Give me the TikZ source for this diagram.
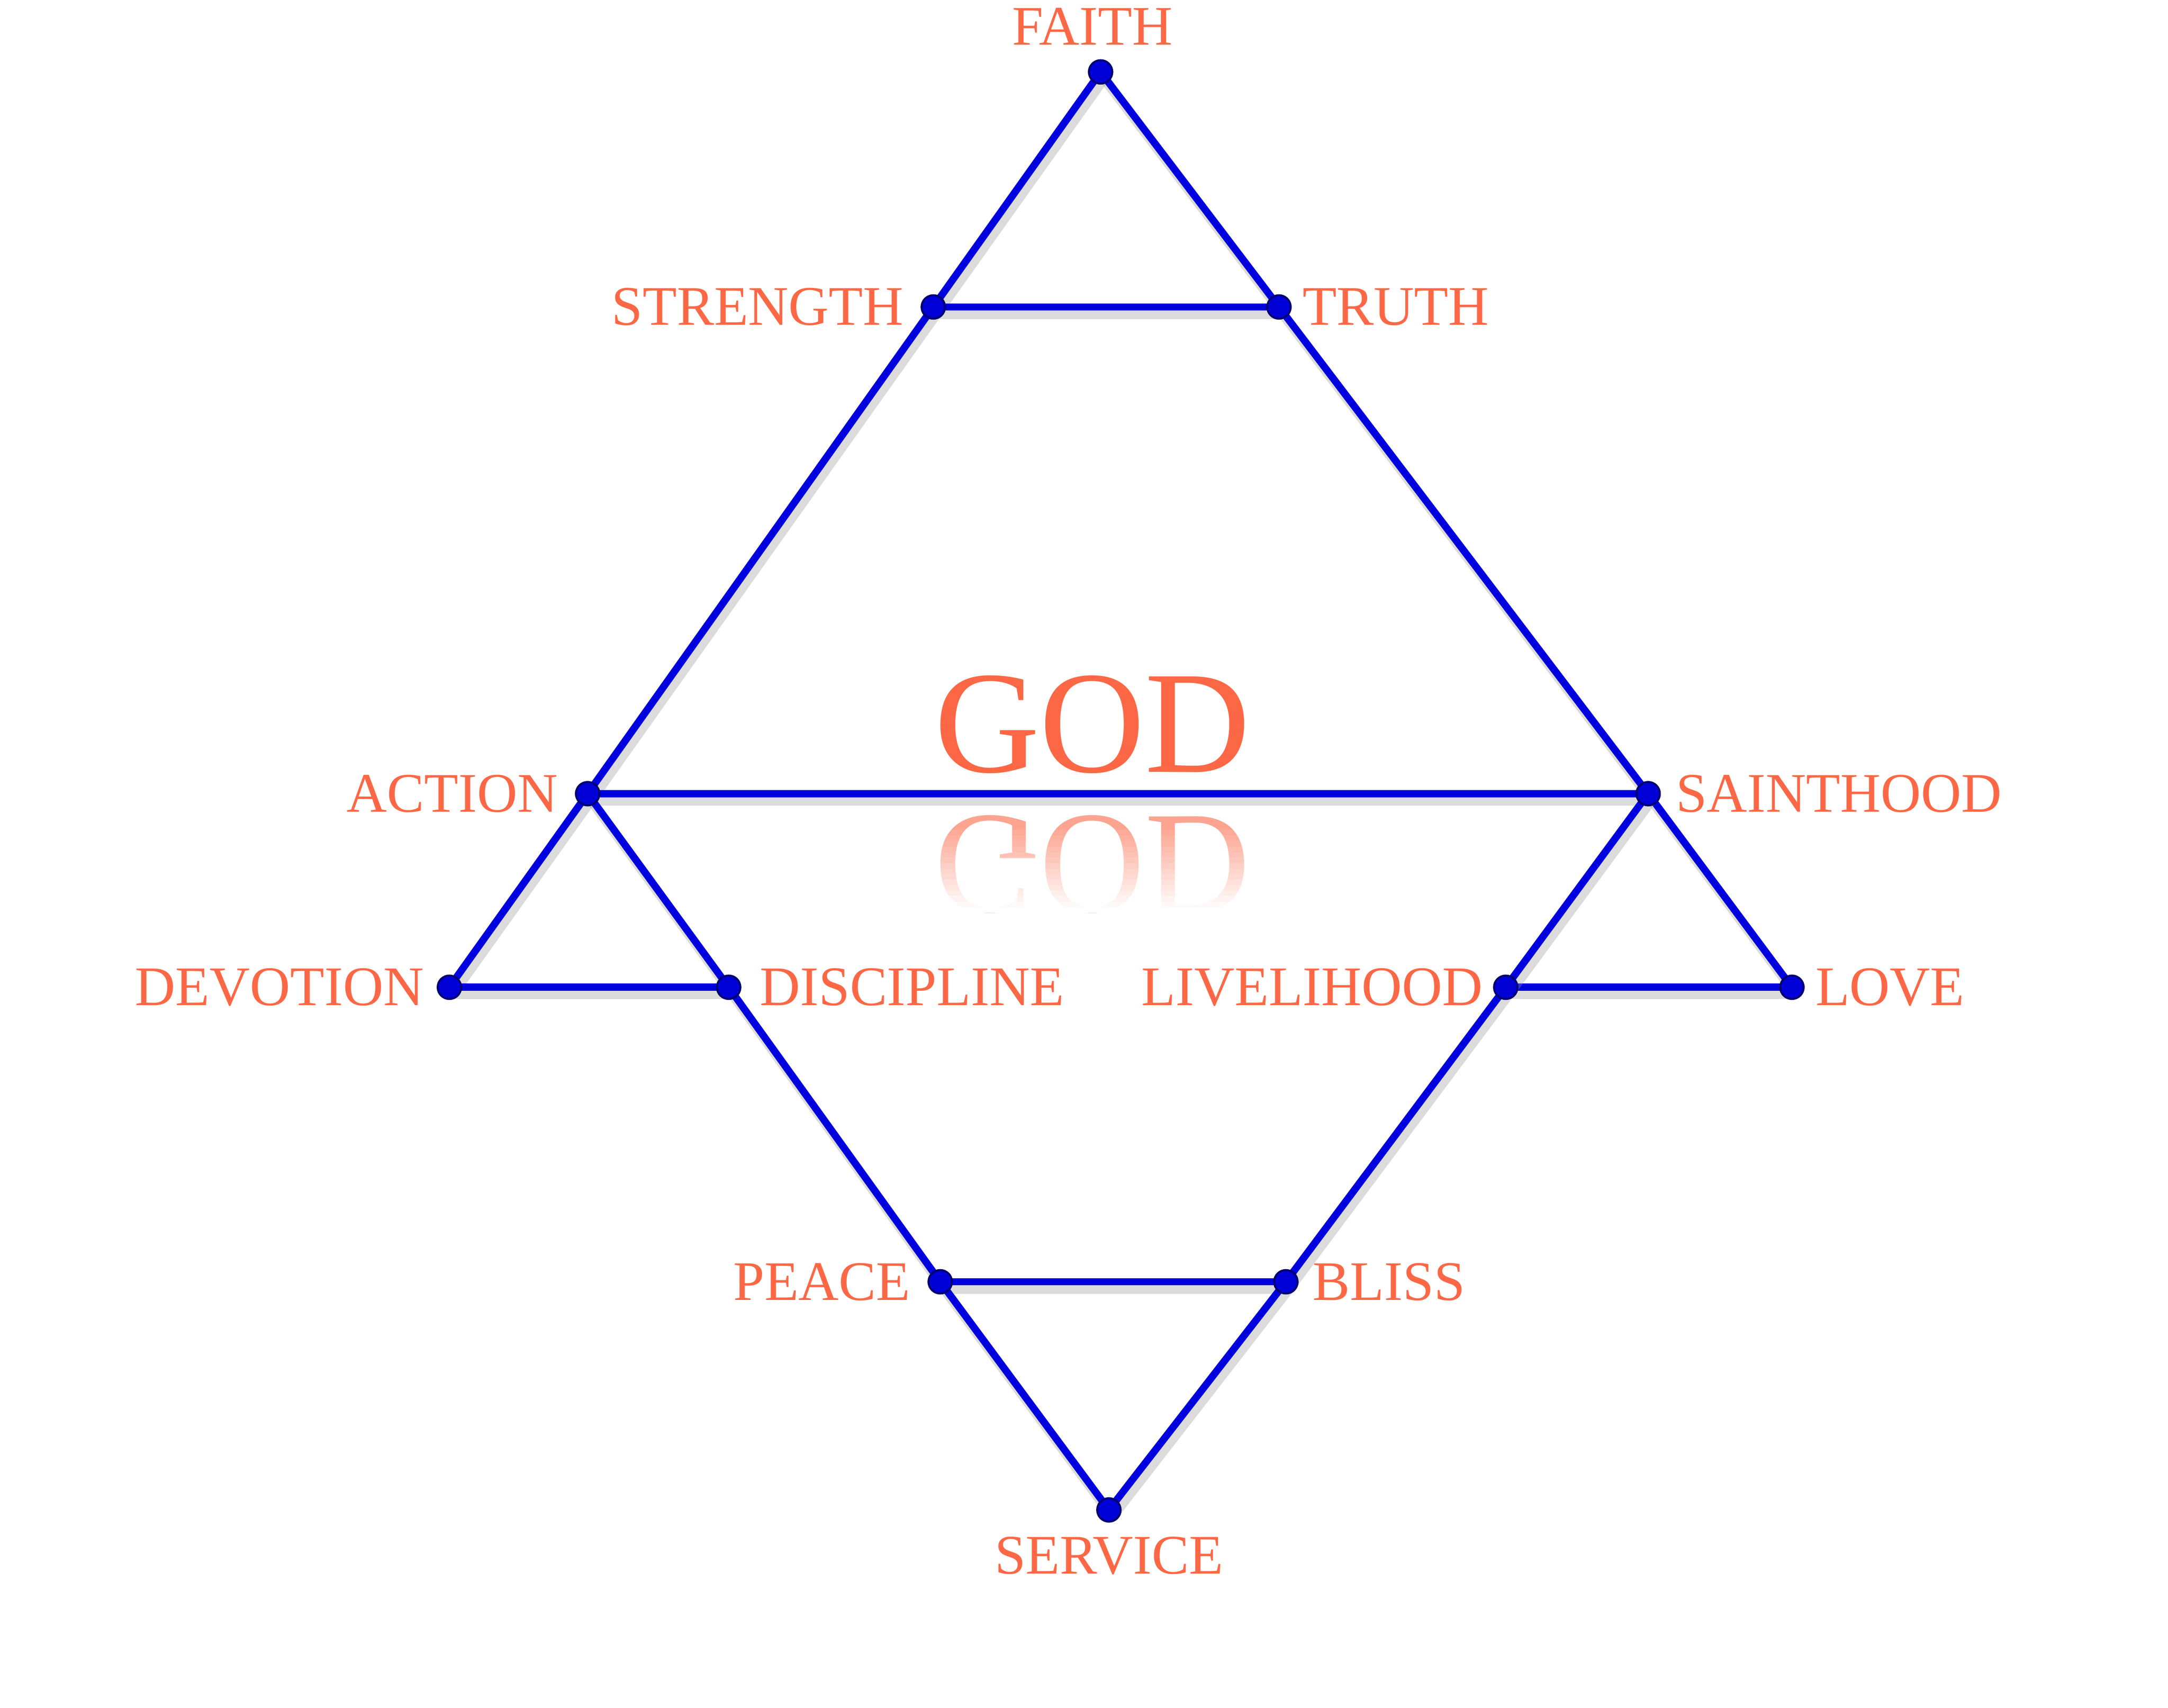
\documentclass[tikz,border=0pt]{standalone}
\usepackage{fontspec}
\setmainfont{Liberation Serif}
\usepackage{xcolor}
\usepackage{tikz}
\usetikzlibrary{positioning}

\definecolor{labelred}{RGB}{252,104,70}
\definecolor{lineblue}{RGB}{0,0,222}
\definecolor{dotblue}{RGB}{0,0,215}

\pgfdeclarelayer{bg}
\pgfsetlayers{bg,main}

\tikzset{
    vertex/.style={circle, fill=dotblue, draw=dotblue!50!black, line width=0.8pt, minimum size=0.34cm, inner sep=0pt},
    link/.style={lineblue, line width=3pt},
    linkshade/.style={black!40, opacity=0.35, line width=3.6pt, transform canvas={shift={(0.05cm,-0.11cm)}}},
    word/.style={text=labelred, font=\fontsize{23}{26}\selectfont, inner sep=0pt},
    bigword/.style={text=labelred, font=\fontsize{60}{64}\selectfont, inner sep=0pt}
}

\begin{document}
\begin{tikzpicture}[x=0.02cm, y=-0.02cm]
    \useasboundingbox (0,0) rectangle (1568,1235);

    % Points of the two triangles
    \node[vertex] (faith) at (796,52) {};
    \node[vertex] (strength) at (675,222) {};
    \node[vertex] (truth) at (925,222) {};
    \node[vertex] (action) at (425,574) {};
    \node[vertex] (sainthood) at (1192,574) {};
    \node[vertex] (devotion) at (325,714) {};
    \node[vertex] (discipline) at (527,714) {};
    \node[vertex] (livelihood) at (1089,714) {};
    \node[vertex] (love) at (1296,714) {};
    \node[vertex] (peace) at (680,927) {};
    \node[vertex] (bliss) at (930,927) {};
    \node[vertex] (service) at (802,1092) {};

    % Lines, with their shadows
    \begin{pgfonlayer}{bg}
        \foreach \p/\q in {faith/strength, strength/action, action/devotion, faith/truth, truth/sainthood, sainthood/love,
                          strength/truth, action/sainthood, devotion/discipline, livelihood/love, peace/bliss,
                          action/discipline, discipline/peace, peace/service, sainthood/livelihood, livelihood/bliss, bliss/service}
        {
            \draw[linkshade] (\p.center) -- (\q.center);
            \draw[link] (\p.center) -- (\q.center);
        }
    \end{pgfonlayer}

    % Labels
    \node[word, above=0.2cm of faith, xshift=-0.12cm] (faithlbl) {FAITH};
    \node[word, left=0.24cm of strength] (strengthlbl) {STRENGTH};
    \node[word, right=0.15cm of truth] (truthlbl) {TRUTH};
    \node[word, left=0.24cm of action] (actionlbl) {ACTION};
    \node[word, right=0.21cm of sainthood] (sainthoodlbl) {SAINTHOOD};
    \node[word, left=0.18cm of devotion] (devotionlbl) {DEVOTION};
    \node[word, right=0.26cm of discipline] (disciplinelbl) {DISCIPLINE};
    \node[word, left=0.14cm of livelihood] (livelihoodlbl) {LIVELIHOOD};
    \node[word, right=0.15cm of love] (lovelbl) {LOVE};
    \node[word, left=0.24cm of peace] (peacelbl) {PEACE};
    \node[word, right=0.2cm of bliss] (blisslbl) {BLISS};
    \node[word, below=0.2cm of service] (servicelbl) {SERVICE};

    % Centre word and its reflection
    \node[bigword] (god) at (790,524) {GOD};
    \begin{scope}[shift={(790,625)}, yscale=-1]
        \node[bigword, transform shape, text opacity=0.6] (godmirror) at (0,0) {GOD};
    \end{scope}
    % fade the reflection out towards the bottom
    \foreach \i in {0,...,15} {
        \pgfmathsetmacro{\op}{\i/15}
        \fill[white, opacity=\op] (665,{596+\i*4}) rectangle (920,{600+\i*4});
    }
\end{tikzpicture}
\end{document}
